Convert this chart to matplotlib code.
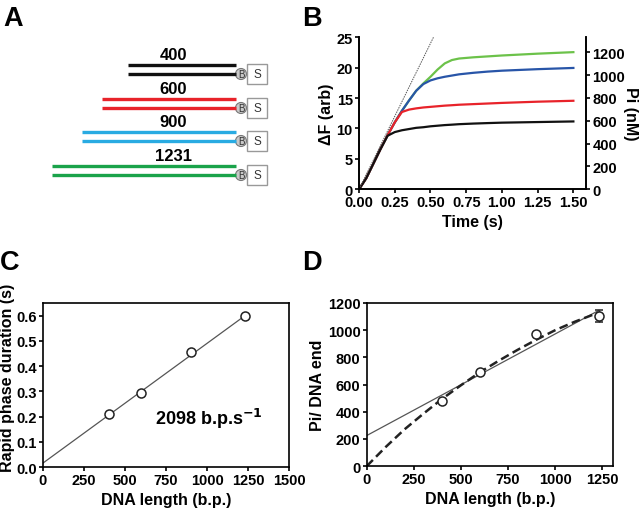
import numpy as np
import matplotlib.pyplot as plt
from matplotlib.patches import Rectangle, Circle

plt.rcParams['font.family'] = ['Liberation Sans', 'DejaVu Sans']
plt.rcParams['font.weight'] = 'bold'
plt.rcParams['axes.labelweight'] = 'bold'
plt.rcParams['axes.linewidth'] = 1.2
plt.rcParams['xtick.major.width'] = 1.2
plt.rcParams['ytick.major.width'] = 1.2
plt.rcParams['xtick.major.size'] = 3
plt.rcParams['ytick.major.size'] = 3
plt.rcParams['xtick.labelsize'] = 10.5
plt.rcParams['ytick.labelsize'] = 10.5

# --- panel A: DNA substrates
a_lengths = ["400", "600", "900", "1231"]
a_colors = ["#111111", "#e8232a", "#29abe2", "#1aa34a"]

# --- panel B: time courses (s, arb)
b_time = [0, 0.05, 0.1, 0.15, 0.2, 0.25, 0.3, 0.35, 0.4, 0.45, 0.5, 0.55,
          0.6, 0.65, 0.7, 0.8, 0.9, 1.0, 1.25, 1.5]
b_black = [0, 1.8, 4.2, 6.6, 8.8, 9.4, 9.7, 9.9, 10.1, 10.2, 10.35, 10.45,
           10.55, 10.62, 10.7, 10.8, 10.88, 10.95, 11.05, 11.15]
b_red = [0, 1.8, 4.2, 6.6, 8.9, 11.0, 12.7, 13.1, 13.3, 13.45, 13.55, 13.65,
         13.75, 13.82, 13.9, 14.0, 14.1, 14.2, 14.4, 14.55]
b_blue = [0, 1.8, 4.2, 6.6, 8.9, 11.0, 12.9, 14.6, 16.2, 17.3, 17.9, 18.25,
          18.5, 18.7, 18.9, 19.15, 19.35, 19.5, 19.75, 19.95]
b_green = [0, 1.8, 4.2, 6.6, 8.9, 11.0, 12.9, 14.6, 16.2, 17.4, 18.5, 19.7,
           20.7, 21.25, 21.5, 21.7, 21.85, 22.0, 22.3, 22.55]
b_colors = ["#111111", "#e8232a", "#2855a8", "#6cc24a"]
b_slope_t = [0, 0.6]
b_slope_f = [0, 28.8]
nm_per_arb = 53.25

# --- panel C
c_len = [400, 600, 900, 1231]
c_dur = [0.21, 0.295, 0.455, 0.60]
c_fit_x = [0, 1231]
c_fit_y = [0.016, 0.600]

# --- panel D
d_len = [400, 600, 900, 1231]
d_pi = [480, 690, 970, 1105]
d_err = [0, 0, 0, 42]
d_lin_x = [0, 1231]
d_lin_y = [225, 1145]
d_curve_x = [0, 100, 200, 300, 400, 500, 600, 700, 800, 900, 1000, 1100, 1231]
d_curve_y = [0, 140, 270, 385, 495, 595, 690, 775, 855, 930, 1000, 1060, 1130]

fig = plt.figure(figsize=(6.4, 5.1), dpi=100)

# panel A drawn in pixel units
axa = fig.add_axes([0, 0, 1, 1])
axa.set_xlim(0, 640)
axa.set_ylim(510, 0)
axa.axis('off')
a_left = [128, 102, 82, 52]
a_row = [66, 100, 133, 167]
for lab, col, x0, y in zip(a_lengths, a_colors, a_left, a_row):
    axa.plot([x0, 236], [y, y], color=col, lw=2.4, solid_capstyle='butt')
    axa.plot([x0, 236], [y + 9, y + 9], color=col, lw=2.4, solid_capstyle='butt')
    axa.text(173, y - 3, lab, ha='center', va='bottom', fontsize=12)
    axa.add_patch(Circle((241, y + 9), 5.5, facecolor='#c8c8c8', edgecolor='#777777', lw=0.8))
    axa.text(241, y + 9.5, "B", ha='center', va='center', fontsize=7,
             fontweight='normal', color='#333333')
    axa.add_patch(Rectangle((247, y - 1), 20, 20, facecolor='white', edgecolor='#999999', lw=1))
    axa.text(257, y + 9.5, "S", ha='center', va='center', fontsize=8.5,
             fontweight='normal', color='#333333')

for letter, x, y in [("A", 3, 26), ("B", 302, 26), ("C", 0, 270), ("D", 302, 270)]:
    axa.text(x, y, letter, fontsize=19.5, fontweight='bold', ha='left', va='baseline')

# panel B
axb = fig.add_axes([0.561, 0.627, 0.355, 0.298])
for ys, col in zip([b_green, b_blue, b_red, b_black], b_colors[::-1]):
    axb.plot(b_time, ys, color=col, lw=1.6)
axb.plot(b_slope_t, b_slope_f, color='#555555', lw=0.7, ls=(0, (1.5, 1)))
axb.set_xlim(0, 1.59)
axb.set_ylim(0, 25)
axb.set_xticks(np.arange(0, 1.51, 0.25))
axb.set_xticklabels([f"{v:.2f}" for v in np.arange(0, 1.51, 0.25)])
axb.set_yticks(range(0, 26, 5))
axb.set_xlabel("Time (s)", fontsize=11.5, labelpad=3)
axb.set_ylabel("ΔF (arb)", fontsize=11.5, labelpad=2)
axb.spines['top'].set_visible(False)
axb2 = axb.twinx()
axb2.set_ylim(0, 25 * nm_per_arb)
axb2.set_yticks(range(0, 1201, 200))
axb2.set_ylabel("Pi (nM)", fontsize=11.5, rotation=270, labelpad=9)
axb2.spines['top'].set_visible(False)

# panel C
axc = fig.add_axes([0.067, 0.082, 0.385, 0.322])
axc.plot(c_fit_x, c_fit_y, color='#555555', lw=0.9)
axc.plot(c_len, c_dur, 'o', mfc='white', mec='#222222', mew=1.1, ms=6.5)
axc.set_xlim(0, 1500)
axc.set_ylim(0, 0.65)
axc.set_xticks(range(0, 1501, 250))
axc.set_yticks(np.arange(0, 0.61, 0.1))
axc.set_yticklabels([f"{v:.1f}" for v in np.arange(0, 0.61, 0.1)])
axc.set_xlabel("DNA length (b.p.)", fontsize=11.5, labelpad=3)
axc.set_ylabel("Rapid phase duration (s)", fontsize=11.5)
axc.yaxis.set_label_coords(-0.115, 0.55)
axc.text(0.89, 0.30, r"2098 b.p.s$^{\mathbf{-1}}$", transform=axc.transAxes,
         ha='right', va='center', fontsize=13)

# panel D
axd = fig.add_axes([0.573, 0.084, 0.385, 0.320])
axd.plot(d_lin_x, d_lin_y, color='#555555', lw=0.9)
axd.plot(d_curve_x, d_curve_y, color='#222222', lw=1.8, ls=(0, (3.5, 1.8)))
axd.errorbar(d_len, d_pi, yerr=d_err, fmt='o', mfc='white', mec='#222222',
             mew=1.1, ms=6.5, ecolor='#222222', elinewidth=1, capsize=3, capthick=1)
axd.set_xlim(0, 1307)
axd.set_ylim(0, 1200)
axd.set_xticks(range(0, 1251, 250))
axd.set_yticks(range(0, 1201, 200))
axd.set_xlabel("DNA length (b.p.)", fontsize=11.5, labelpad=3)
axd.set_ylabel("Pi/ DNA end", fontsize=11.5, labelpad=2)

for ax in [axb, axb2, axc, axd]:
    ax.tick_params(pad=1.5)

fig.savefig("out.png", dpi=100)
